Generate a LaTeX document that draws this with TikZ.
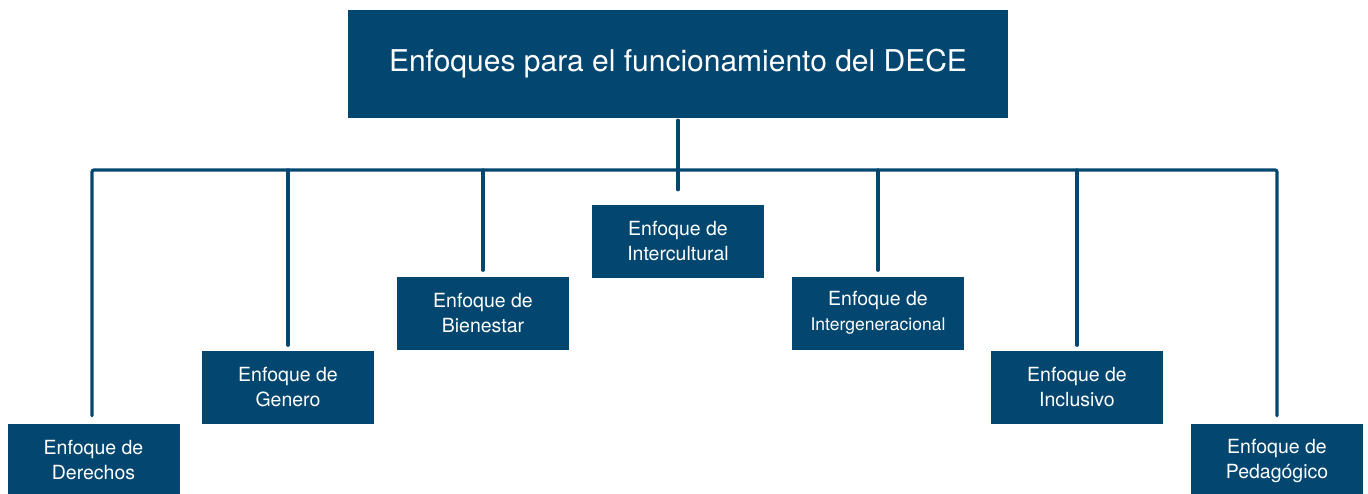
\documentclass[tikz,border=0pt]{standalone}
\usepackage{fontspec}
\setmainfont{TeX Gyre Heros}
\definecolor{deceblue}{RGB}{3,70,112}
\begin{document}
\begin{tikzpicture}[x=1pt,y=-1pt,
  box/.style={fill=deceblue,text=white,inner sep=0pt,minimum width=172pt,minimum height=73pt,align=center,font=\fontsize{19.5}{25}\selectfont},
  conn/.style={draw=deceblue,line width=3.2pt,line cap=round,rounded corners=2pt}]
\clip (0,0) rectangle (1368,493);
\useasboundingbox (0,0) rectangle (1368,493);
\node[fill=deceblue,text=white,minimum width=660pt,minimum height=108pt,inner sep=0pt,font=\fontsize{30}{36}\selectfont] (top) at (678,64) {Enfoques para el funcionamiento del DECE};
\node[box] (der) at (93.5,460.5) {Enfoque de\\Derechos};
\node[box] (gen) at (288,387) {Enfoque de\\Genero};
\node[box] (bie) at (483,313) {Enfoque de\\Bienestar};
\node[box] (ic) at (678,241.5) {Enfoque de\\Intercultural};
\node[box] (ig) at (878,313) {Enfoque de\\{\fontsize{17.5}{25}\selectfont Intergeneracional}};
\node[box] (inc) at (1077,387) {Enfoque de\\Inclusivo};
\node[box] (ped) at (1277,460.5) {Enfoque de\\Pedagógico};
\coordinate (barL) at (92,170);
\coordinate (barR) at (1277,170);
\draw[conn] ([yshift=8pt]barL |- der.north) -- (barL) -- (barR) -- ([yshift=8pt]ped.north);
\draw[conn] ([yshift=-2pt]top.south) -- ([yshift=15pt]ic.north);
\draw[conn] (gen.north |- barL) -- ([yshift=5pt]gen.north);
\draw[conn] (bie.north |- barL) -- ([yshift=6pt]bie.north);
\draw[conn] (ig.north |- barL) -- ([yshift=6pt]ig.north);
\draw[conn] (inc.north |- barL) -- ([yshift=5pt]inc.north);
\end{tikzpicture}
\end{document}
